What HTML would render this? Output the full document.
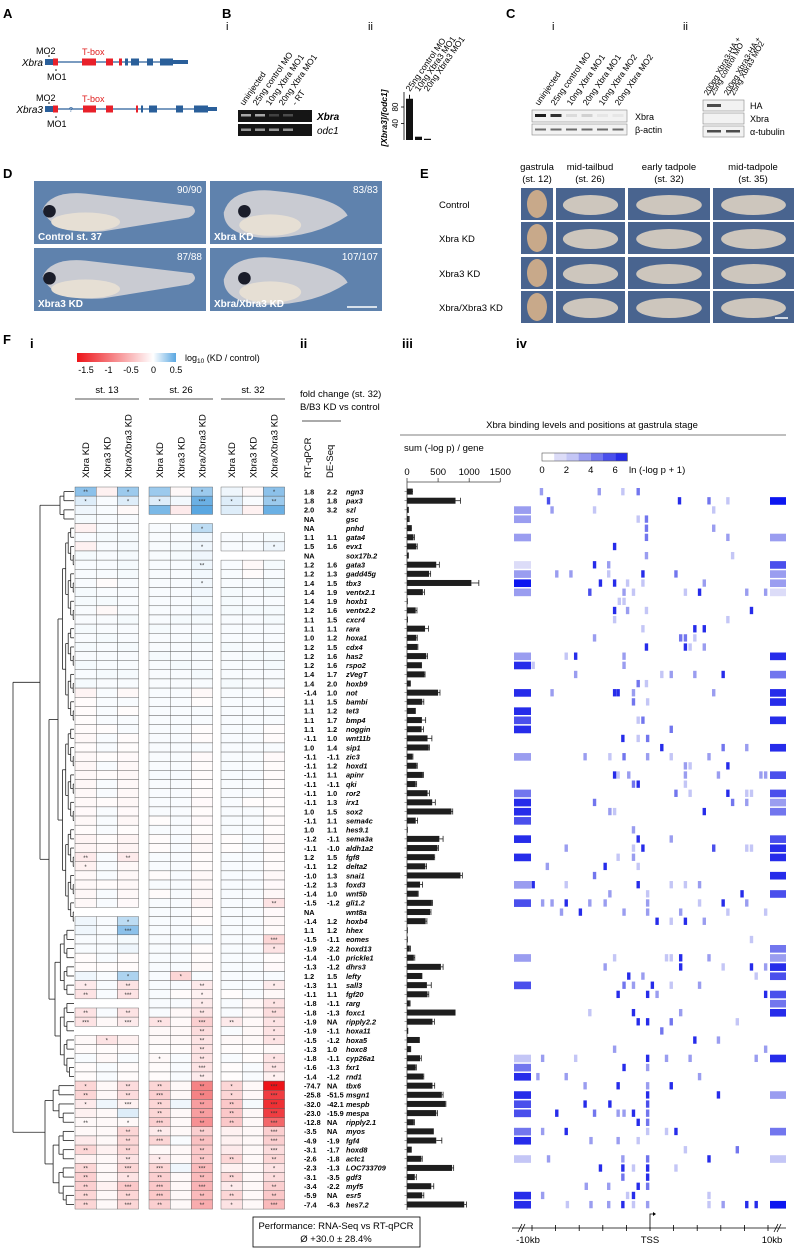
<!DOCTYPE html>
<html><head><meta charset="utf-8">
<style>
html,body{margin:0;padding:0;background:#fff;}
svg{display:block;font-family:"Liberation Sans",Arial,sans-serif;}
</style></head>
<body>
<svg id="fig" xmlns="http://www.w3.org/2000/svg" width="796" height="1248" viewBox="0 0 796 1248">
<rect x="0" y="0" width="796" height="1248" fill="#fff"/>
<g id="topPanels"></g>
<g id="heat"></g>
<g id="dendro"></g>
<g id="table"></g>
<g id="bars"></g>
<g id="bind"></g>
</svg>
<script>
const genes=["ngn3","pax3","szl","gsc","pnhd","gata4","evx1","sox17b.2","gata3","gadd45g","tbx3","ventx2.1","hoxb1","ventx2.2","cxcr4","rara","hoxa1","cdx4","has2","rspo2","zVegT","hoxb9","not","bambi","tet3","bmp4","noggin","wnt11b","sip1","zic3","hoxd1","apinr","qki","ror2","irx1","sox2","sema4c","hes9.1","sema3a","aldh1a2","fgf8","delta2","snai1","foxd3","wnt5b","gli1.2","wnt8a","hoxb4","hhex","eomes","hoxd13","prickle1","dhrs3","lefty","sall3","fgf20","rarg","foxc1","ripply2.2","hoxa11","hoxa5","hoxc8","cyp26a1","fxr1","rnd1","tbx6","msgn1","mespb","mespa","ripply2.1","myos","fgf4","hoxd8","actc1","LOC733709","gdf3","myf5","esr5","hes7.2"];
const rtqpcr=["1.8","1.8","2.0","NA","NA","1.1","1.5","NA","1.2","1.2","1.4","1.4","1.4","1.2","1.1","1.1","1.0","1.2","1.2","1.2","1.4","1.4","-1.4","1.1","1.1","1.1","1.1","-1.1","1.0","-1.1","-1.1","-1.1","-1.1","-1.1","-1.1","1.0","-1.1","1.0","-1.2","-1.1","1.2","-1.1","-1.0","-1.2","-1.4","-1.5","NA","-1.4","1.1","-1.5","-1.9","-1.4","-1.3","1.2","-1.3","-1.1","-1.8","-1.8","-1.9","-1.9","-1.5","-1.3","-1.8","-1.6","-1.4","-74.7","-25.8","-32.0","-23.0","-12.8","-3.5","-4.9","-3.1","-2.6","-2.3","-3.1","-3.4","-5.9","-7.4"];
const deseq=["2.2","1.8","3.2","","","1.1","1.6","","1.6","1.3","1.5","1.9","1.9","1.6","1.5","1.1","1.2","1.5","1.6","1.6","1.7","2.0","1.0","1.5","1.2","1.7","1.2","1.0","1.4","-1.1","1.2","1.1","-1.1","1.0","1.3","1.5","1.1","1.1","-1.1","-1.0","1.5","1.2","1.3","1.3","1.0","-1.2","","1.2","1.2","-1.1","-2.2","-1.0","-1.2","1.5","1.1","1.1","-1.1","-1.3","NA","-1.1","-1.2","1.0","-1.1","-1.3","-1.2","NA","-51.5","-42.1","-15.9","NA","NA","-1.9","-1.7","-1.8","-1.3","-3.5","-2.2","NA","-6.3"];
const bindSum=[80,780,20,30,65,105,150,20,470,355,1035,255,5,140,15,290,150,165,310,230,280,50,500,245,130,240,235,330,350,85,155,255,140,330,405,715,140,10,520,490,435,295,860,210,175,400,370,300,2,0,45,110,545,235,320,330,45,780,410,20,195,55,210,140,260,410,560,615,470,110,420,470,65,230,725,125,390,245,920];
const bindErr=[10,80,3,5,8,15,15,3,50,25,120,25,0,20,0,55,15,10,20,5,10,5,30,25,5,60,30,70,10,10,10,10,15,30,50,20,30,0,60,15,10,20,30,40,5,10,15,20,0,0,10,15,35,5,70,20,5,0,30,0,5,5,20,10,10,35,20,10,20,10,5,90,5,15,25,25,40,25,35];
const barTicks=[0,500,1000,1500];
const heatCols=["Xbra KD","Xbra3 KD","Xbra/Xbra3 KD"];
const stages=["st. 13","st. 26","st. 32"];
const heatVals=[
[0.35,-0.1,0.3,0.3,-0.05,0.3,0.05,-0.05,0.35],
[0.1,0.02,0.1,0.1,0.04,0.45,0.1,0.02,0.3],
[0.05,0.02,-0.05,0.4,-0.15,0.5,0.1,-0.1,0.45],
[0.03,0.02,0.02,null,null,null,null,null,null],
[-0.1,0.02,0.02,0.02,0.02,0.2,null,null,null],
[0.02,0.03,0.03,0.02,0.02,0.05,0.02,0.02,0.03],
[-0.1,0.02,0.03,0.02,0.03,0.05,0.02,0.02,0.05],
[0.03,0.02,0.03,0.02,0.03,0.05,null,null,null],
[0.02,0.02,0.03,0.02,0.02,0.05,0.02,-0.05,0.03],
[0.02,0.02,0.03,0.02,0.02,0.04,0.02,-0.03,0.02],
[0.02,-0.03,0.02,0.02,0.02,0.04,0.02,0.02,0.03],
[0.03,0.02,0.02,0.02,0.02,0.04,0.03,0.02,0.03],
[0.03,0.03,0.02,0.02,0.02,0.03,0.03,0.02,0.02],
[0.02,-0.05,0.02,0.02,0.02,0.04,0.03,0.03,0.03],
[0.02,0.02,0.03,0.02,0.03,0.03,0.02,0.02,0.03],
[0.03,0.02,0.02,0.03,0.02,0.02,0.02,0.02,0.02],
[0.02,0.03,0.02,0.02,0.02,0.03,0.02,0.02,0.02],
[0.03,0.02,0.03,0.02,0.02,0.02,0.03,0.02,0.02],
[0.02,0.02,0.02,0.03,0.02,0.02,0.02,0.03,0.03],
[0.03,0.02,0.02,0.02,0.03,0.02,0.02,0.02,0.03],
[0.02,0.03,0.03,0.02,0.02,0.03,0.02,0.02,0.02],
[0.03,0.02,0.02,0.02,0.02,0.02,0.03,0.02,0.02],
[-0.08,0.02,-0.05,0.02,0.02,-0.05,0.02,0.02,-0.03],
[-0.03,0.02,0.02,0.02,0.02,-0.02,0.02,0.02,0.02],
[-0.03,0.02,-0.02,0.02,0.02,0.02,0.02,0.02,0.02],
[-0.02,0.02,0.02,0.02,0.02,0.02,0.02,0.02,0.02],
[-0.03,-0.02,0.02,0.02,0.02,-0.02,0.02,0.02,-0.02],
[-0.05,0.02,-0.03,0.02,0.02,-0.03,0.02,0.02,-0.03],
[-0.03,0.02,-0.02,0.02,0.02,0.02,0.02,0.02,0.02],
[-0.05,-0.02,-0.04,0.02,0.02,-0.04,0.02,0.02,-0.04],
[-0.06,0.02,-0.05,0.02,0.02,-0.03,0.02,0.02,-0.03],
[-0.05,-0.03,-0.05,0.02,0.02,-0.03,0.02,0.02,-0.03],
[-0.06,0.02,-0.05,0.02,0.02,-0.02,0.02,0.02,-0.02],
[-0.05,0.02,-0.05,0.02,0.02,-0.03,0.02,0.02,-0.02],
[-0.05,-0.03,-0.06,0.02,0.02,-0.04,0.02,-0.02,-0.02],
[-0.04,0.02,-0.04,0.02,0.02,-0.03,0.02,0.02,-0.02],
[-0.05,0.02,-0.06,-0.02,0.02,-0.04,0.02,0.02,-0.03],
[-0.03,0.02,-0.02,0.02,0.02,-0.02,0.02,0.02,-0.02],
[-0.08,-0.03,-0.08,-0.03,0.02,-0.06,-0.02,0.02,-0.05],
[-0.08,-0.05,-0.08,-0.03,0.02,-0.06,-0.02,0.02,-0.05],
[-0.15,0.02,-0.15,0.02,0.02,-0.03,0.02,0.02,-0.03],
[-0.1,0.02,-0.05,0.02,0.02,-0.03,0.02,0.02,-0.03],
[-0.05,0.02,-0.05,-0.03,0.02,-0.05,0.02,0.02,-0.05],
[-0.05,-0.03,-0.05,0.02,0.02,-0.05,0.02,0.02,-0.04],
[-0.06,0.02,-0.05,-0.03,0.02,-0.06,0.02,0.02,-0.06],
[-0.05,0.02,-0.04,0.02,0.02,-0.08,0.02,0.02,-0.2],
[null,null,null,0.02,0.02,-0.03,0.02,0.02,-0.04],
[0.05,0.02,0.2,0.02,0.02,-0.03,0.02,0.02,-0.05],
[0.05,0.02,0.35,0.02,0.02,0.02,0.02,0.02,-0.03],
[0.02,0.02,0.03,0.02,0.02,0.02,0.02,0.02,-0.3],
[0.02,0.02,0.05,0.02,0.02,-0.03,0.02,0.02,-0.2],
[-0.03,0.02,-0.03,0.02,0.02,-0.03,0.02,0.02,-0.03],
[-0.03,-0.02,-0.03,0.02,0.02,-0.05,0.02,0.02,-0.04],
[0.05,0.02,0.25,0.02,-0.3,0.02,0.02,0.02,0.02],
[-0.15,0.02,-0.2,0.02,0.02,-0.15,0.02,0.02,-0.15],
[-0.2,0.02,-0.2,0.02,-0.03,-0.1,-0.02,0.02,-0.05],
[null,null,null,0.02,0.02,-0.15,0.02,-0.05,-0.2],
[-0.2,0.02,-0.2,0.02,-0.05,-0.2,0.02,-0.05,-0.25],
[-0.2,-0.05,-0.15,-0.2,-0.05,-0.35,-0.15,-0.05,-0.2],
[null,null,null,-0.05,-0.05,-0.25,0.02,-0.05,-0.2],
[-0.05,-0.2,-0.1,-0.05,-0.05,-0.2,-0.05,-0.05,-0.2],
[-0.03,-0.03,-0.03,-0.02,-0.02,-0.2,-0.02,-0.02,-0.05],
[0.02,-0.05,0.02,-0.05,0.02,-0.2,0.02,-0.02,-0.2],
[-0.03,0.02,-0.03,-0.03,0.02,-0.2,-0.02,0.02,-0.2],
[-0.03,0.02,-0.03,-0.03,0.02,-0.15,-0.02,0.02,-0.1],
[-0.3,-0.05,-0.25,-0.3,-0.05,-0.9,-0.3,-0.05,-1.7],
[-0.3,-0.05,-0.25,-0.35,-0.05,-0.9,-0.3,-0.05,-1.4],
[-0.15,0.05,-0.1,-0.3,0.05,-0.7,-0.4,0.03,-1.5],
[-0.1,-0.05,0.1,-0.3,-0.05,-0.7,-0.4,-0.05,-1.4],
[-0.05,-0.05,-0.05,-0.35,-0.05,-0.8,-0.4,-0.05,-1.1],
[-0.05,-0.05,-0.3,-0.15,-0.05,-0.35,-0.1,-0.05,-0.35],
[-0.15,-0.05,-0.3,-0.3,0.02,-0.45,-0.1,-0.05,-0.35],
[-0.3,-0.1,-0.3,-0.05,-0.05,-0.4,-0.15,-0.05,-0.25],
[-0.1,-0.05,-0.2,-0.15,-0.05,-0.4,-0.3,-0.05,-0.3],
[-0.3,-0.05,-0.3,-0.3,0.05,-0.5,-0.1,-0.05,-0.2],
[-0.35,-0.05,-0.2,-0.35,-0.05,-0.5,-0.3,-0.05,-0.25],
[-0.35,-0.1,-0.4,-0.4,-0.05,-0.55,-0.15,-0.05,-0.35],
[-0.3,-0.05,-0.3,-0.4,-0.05,-0.5,-0.3,-0.05,-0.4],
[-0.3,-0.05,-0.3,-0.35,-0.05,-0.6,-0.2,-0.05,-0.5]];
const heatStars={0:"**,,*,,,*,,,*",1:"*,,*,*,,***,*,,**",4:",,,,,*,,,",6:",,,,,*,,,*",8:",,,,,**,,,",10:",,,,,*,,,",40:"**,,**,,,,,,",41:"*,,,,,,,,",45:",,,,,,,,**",47:",,*,,,,,,",48:",,***,,,,,,",49:",,,,,,,,***",50:",,,,,,,,*",53:",,*,,*,,,,",54:"*,,**,,,**,,,*",55:"**,,***,,,*,,,",56:",,,,,*,,,*",57:"**,,**,,,**,,,**",58:"***,,***,**,,***,**,,*",59:",,,,,**,,,*",60:",*,,,,**,,,*",61:",,,,,**,,,",62:",,,*,,**,,,*",63:",,,,,***,,,**",64:",,,,,**,,,*",65:"*,,**,**,,**,*,,***",66:"**,,**,***,,**,*,,***",67:"*,,***,**,,**,**,,***",68:",,,**,,**,**,,***",69:"**,,*,***,,**,**,,***",70:",,**,**,,**,,,***",71:",,**,***,,**,,,***",72:"**,,**,,,**,,,***",73:",,**,*,,**,**,,**",74:"**,,***,***,,***,,,*",75:"**,,*,**,,**,**,,*",76:"**,,***,***,,***,*,,**",77:"**,,**,***,,**,**,,**",78:"**,,***,**,,**,*,,***"};
const leftBin=[0,0,3,3,0,3,0,0,1,3,7,3,0,0,0,0,0,0,3,6,0,0,6,0,6,5,6,0,0,3,0,0,0,4,6,6,5,0,6,0,6,0,0,3,0,5,0,0,0,0,0,3,0,0,5,0,0,0,0,0,0,0,2,4,6,0,6,5,5,0,4,6,0,2,0,0,0,6,6];
const rightBin=[0,7,0,0,0,3,0,0,5,3,3,1,0,0,0,0,0,0,6,0,4,0,6,6,0,6,0,0,6,0,0,5,0,5,3,4,0,0,5,6,6,0,6,0,5,0,0,0,0,0,4,3,6,5,0,5,4,6,0,0,0,0,6,0,0,0,3,0,0,0,4,0,0,2,0,0,0,0,7];
const bindingMarks=[[0,-9.2,3],[0,-4.3,3],[0,-2.3,2],[0,-1.0,4],[1,-8.6,5],[1,2.5,6],[1,5.0,4],[1,6.6,2],[2,-8.3,3],[2,-4.7,2],[2,5.4,2],[3,-1.0,2],[3,-0.3,4],[4,-0.3,4],[4,5.4,3],[5,-0.3,4],[5,6.6,3],[6,-3.0,6],[7,-0.3,3],[7,7.0,2],[8,-4.7,6],[8,-3.5,3],[9,-7.9,3],[9,-6.7,3],[9,-3.5,2],[9,-0.6,6],[9,2.2,4],[10,-4.2,6],[10,-3.0,6],[10,-1.9,2],[10,-0.6,2],[10,4.6,3],[11,-5.1,5],[11,-2.2,3],[11,-1.4,2],[11,3.0,2],[11,4.2,6],[11,8.2,3],[11,9.8,3],[12,-2.6,2],[12,-2.2,2],[13,-3.0,6],[13,-1.9,3],[13,-0.3,2],[13,8.6,6],[14,-3.0,2],[14,6.6,2],[15,-0.6,2],[15,3.8,6],[15,4.6,6],[16,-4.7,3],[16,2.6,4],[16,3.0,4],[16,3.8,2],[17,-0.3,6],[17,3.0,6],[17,3.4,2],[17,4.6,3],[18,-7.1,2],[18,-6.3,6],[18,-2.2,3],[19,-9.9,2],[19,-2.2,3],[20,-6.3,3],[20,1.0,2],[20,1.8,3],[20,3.8,3],[20,6.2,6],[21,-1.0,4],[21,-0.3,2],[22,-8.3,3],[22,-3.0,6],[22,-2.7,6],[22,-1.4,3],[22,5.4,3],[23,-1.4,4],[23,-0.2,2],[25,-1.0,2],[25,-0.6,4],[26,1.8,4],[27,-2.3,6],[27,-1.0,2],[27,-0.2,4],[28,1.0,6],[28,6.2,4],[28,8.2,3],[29,-5.5,3],[29,-3.4,2],[29,-2.2,4],[29,-0.2,3],[29,1.8,2],[29,5.0,3],[30,3.0,3],[30,3.4,2],[30,6.6,6],[31,-3.0,6],[31,-2.7,2],[31,-1.8,3],[31,3.0,3],[31,5.8,3],[31,9.4,3],[31,9.8,3],[32,-1.4,4],[32,-1.0,6],[32,3.0,2],[33,2.2,4],[33,3.4,2],[33,6.6,6],[33,8.2,2],[33,8.6,2],[34,-4.7,4],[34,7.0,4],[34,8.2,3],[35,-3.4,3],[35,-3.0,2],[35,4.6,6],[37,-1.4,3],[38,-1.0,6],[38,1.8,3],[39,-7.1,3],[39,-1.4,2],[39,-0.6,6],[39,5.4,5],[39,8.2,2],[39,8.6,2],[40,-2.7,2],[40,-1.4,3],[41,-8.7,3],[41,-3.8,6],[41,-1.0,2],[42,-4.7,4],[43,-9.9,6],[43,-7.1,2],[43,-1.0,6],[43,1.8,2],[43,3.0,2],[43,4.2,3],[44,-3.4,3],[44,-0.2,2],[44,7.8,6],[45,-9.1,3],[45,-8.3,3],[45,-7.1,6],[45,-5.1,3],[45,-3.8,3],[45,-0.2,3],[45,4.2,2],[45,6.2,6],[45,8.2,3],[46,-7.5,3],[46,-5.9,6],[46,-2.2,3],[46,-0.2,3],[46,2.6,3],[46,6.6,2],[46,9.8,2],[47,0.6,6],[47,1.8,2],[47,3.0,6],[47,4.6,3],[49,8.6,2],[51,-3.0,2],[51,1.4,2],[51,1.8,2],[51,2.6,6],[51,5.0,3],[52,-3.8,3],[52,2.6,6],[52,6.2,2],[52,8.6,6],[52,9.8,3],[53,-1.8,6],[53,-0.6,3],[53,9.0,2],[54,-2.2,4],[54,-1.4,3],[54,0.2,6],[54,1.8,2],[54,4.2,3],[55,-2.7,6],[55,-0.2,6],[55,0.6,3],[55,9.8,6],[57,-5.1,2],[57,-1.4,6],[57,2.6,3],[58,-1.0,6],[58,-0.2,6],[58,1.8,4],[58,7.4,2],[59,1.0,4],[60,3.8,6],[60,5.8,3],[61,-3.0,3],[61,9.8,3],[62,-9.1,3],[62,-6.3,2],[62,-0.2,6],[62,1.4,3],[62,3.4,3],[62,9.0,3],[63,-2.2,6],[63,-0.2,3],[64,-9.5,3],[64,-7.1,3],[64,4.2,3],[65,-5.5,3],[65,-2.7,6],[65,-0.2,3],[65,1.8,6],[66,-0.2,6],[66,5.8,6],[67,-5.5,6],[67,-3.4,6],[67,-0.2,5],[68,-7.9,6],[68,-4.7,4],[68,-2.7,3],[68,-2.2,3],[68,-1.4,6],[68,-0.2,4],[69,-1.0,6],[69,-0.2,4],[70,-9.1,3],[70,-7.1,6],[70,-0.2,2],[70,1.4,2],[70,2.2,6],[71,-5.0,3],[71,-2.7,3],[71,-1.0,2],[72,3.0,2],[72,7.4,4],[73,-8.6,3],[73,-2.3,3],[73,-0.2,4],[73,5.0,6],[74,-4.2,6],[74,-2.3,6],[74,-1.4,2],[74,-0.2,6],[74,2.2,2],[75,-2.3,4],[75,-0.2,6],[76,-5.4,3],[76,-3.5,3],[76,-1.0,6],[76,-0.2,4],[77,-9.1,3],[77,-1.9,2],[77,-1.4,6],[77,5.0,2],[78,-7.0,2],[78,-5.0,3],[78,-3.5,3],[78,-2.3,6],[78,-1.4,2],[78,-0.2,3],[78,5.0,2],[78,6.2,3],[78,8.2,6],[78,9.0,6]];
const gelLanes=["uninjected","25ng control MO","10ng Xbra MO1","20ng Xbra MO1","- RT"];
const qpcrLanes=["25ng control MO","10ng Xbra3 MO1","20ng Xbra3 MO1"];
const qpcrVals=[100,8,3];
const qpcrTicks=[40,80];

const NS="http://www.w3.org/2000/svg";
function el(parent,tag,attrs,text){const e=document.createElementNS(NS,tag);for(const k in attrs)e.setAttribute(k,attrs[k]);if(text!==undefined)e.textContent=text;parent.appendChild(e);return e;}

const ROW0=487, RH=9.14;
const rowY=i=>ROW0+i*RH;
const rowC=i=>ROW0+i*RH+RH/2;

/* ---------------- TOP PANELS ---------------- */
const topG=document.getElementById('topPanels');
function label(x,y,t,size,nm,extra){const e=el(topG,'text',Object.assign({x:x,y:y,'font-size':size||13,'font-weight':'bold'},extra||{}),t);return e;}
label(3,18,'A',13,'panel-a-label');label(222,18,'B',13,'panel-b-label');label(506,18,'C',13,'panel-c-label');
label(3,178,'D',13,'panel-d-label');label(420,178,'E',13,'panel-e-label');label(3,344,'F',13,'panel-f-label');
function gene(y,nm,exons,qx,tailEnd){
  const g=el(topG,'g',{});
  el(g,'line',{x1:45,y1:y,x2:tailEnd,y2:y,stroke:'#2a5f9a','stroke-width':1.2});
  exons.forEach(e=>el(g,'rect',{x:e[0],y:y-e[2]/2,width:e[1]-e[0],height:e[2],fill:e[3]}));
  el(g,'text',{x:43,y:y+4,'font-size':10,'font-style':'italic','text-anchor':'end'},nm);
  el(g,'text',{x:36,y:y-8,'font-size':9},'MO2');
  el(g,'text',{x:47,y:y+18,'font-size':9},'MO1');
  el(g,'text',{x:82,y:y-7,'font-size':9,fill:'#e02020'},'T-box');
  el(g,'circle',{cx:49,cy:y-6,r:0.8,fill:'#000'});el(g,'circle',{cx:56,cy:y+8,r:0.8,fill:'#000'});
  if(qx) el(g,'text',{x:qx,y:y+3,'font-size':7,fill:'#2a5f9a'},'?');
}
const B='#2a5f9a',R='#e8202a';
gene(62,'Xbra',[[45,53,6,B],[53,58,7,R],[82,96,7,R],[106,113,7,R],[119,122,7,R],[125,128,7,B],[131,139,7,B],[147,153,7,B],[160,173,7,B],[173,188,4,B]],null,188);
gene(109,'Xbra3',[[45,53,6,B],[53,58,7,R],[83,96,7,R],[106,113,7,R],[136,138,7,R],[141,143,7,B],[149,157,7,B],[176,183,7,B],[194,208,7,B],[208,217,4,B]],69,217);
label(226,30,'i',11,'panel-bi-label',{'font-weight':'normal'});
gelLanes.forEach((t,i)=>{const e=el(topG,'text',{x:0,y:0,'font-size':8.5,transform:`translate(${244+i*13},106) rotate(-55)`},t);});
const gel=el(topG,'g',{});
el(gel,'rect',{x:238,y:110,width:74,height:12,fill:'#151515'});el(gel,'rect',{x:238,y:124,width:74,height:12,fill:'#151515'});
[0.8,0.8,0.25,0.3].forEach((a,i)=>el(gel,'rect',{x:241+i*14,y:114,width:10,height:2.5,fill:'#ccc',opacity:a}));
[0.7,0.7,0.7,0.7].forEach((a,i)=>el(gel,'rect',{x:241+i*14,y:128.5,width:10,height:2.5,fill:'#ccc',opacity:a}));
el(topG,'text',{x:317,y:120,'font-size':10,'font-weight':'bold','font-style':'italic'},'Xbra');
el(topG,'text',{x:317,y:134,'font-size':10,'font-style':'italic'},'odc1');
label(368,30,'ii',11,'panel-bii-label',{'font-weight':'normal'});
qpcrLanes.forEach((t,i)=>{const e=el(topG,'text',{x:0,y:0,'font-size':8.5,transform:`translate(${410+i*9},92) rotate(-55)`},t);});
const qy=v=>140-v*0.4125;
const qg=el(topG,'g',{});
el(qg,'line',{x1:404,y1:92,x2:404,y2:140,stroke:'#000','stroke-width':0.8});
qpcrTicks.forEach(t=>{el(qg,'line',{x1:401,y1:qy(t),x2:404,y2:qy(t),stroke:'#000','stroke-width':0.8});el(qg,'text',{x:0,y:0,'font-size':8,'text-anchor':'middle',transform:`translate(398,${qy(t)}) rotate(-90)`},String(t));});
qpcrVals.forEach((v,i)=>{const r=el(qg,'rect',{x:406+i*9,y:qy(v),width:7,height:140-qy(v),fill:'#111'});});
el(qg,'line',{x1:409.5,y1:qy(100)-4,x2:409.5,y2:qy(100),stroke:'#111'});
el(qg,'text',{x:0,y:0,'font-size':8.5,'font-weight':'bold','font-style':'italic','text-anchor':'middle',transform:'translate(387,118) rotate(-90)'},'[Xbra3]/[odc1]');
label(552,30,'i',11,'panel-ci-label',{'font-weight':'normal'});
["uninjected","25ng control MO","10ng Xbra MO1","20ng Xbra MO1","10ng Xbra MO2","20ng Xbra MO2"].forEach((t,i)=>{const e=el(topG,'text',{x:0,y:0,'font-size':8.5,transform:`translate(${539+i*16},106) rotate(-55)`},t);});
const wb=el(topG,'g',{});
el(wb,'rect',{x:532,y:110,width:95,height:12,fill:'#f2f2f2',stroke:'#888','stroke-width':0.6});
el(wb,'rect',{x:532,y:124,width:95,height:11,fill:'#f2f2f2',stroke:'#888','stroke-width':0.6});
[0.95,0.85,0.1,0.15,0.05,0.05].forEach((a,i)=>el(wb,'rect',{x:535+i*15.5,y:114,width:11,height:3,fill:'#111',opacity:a}));
[0.7,0.7,0.7,0.7,0.7,0.7].forEach((a,i)=>el(wb,'rect',{x:535+i*15.5,y:128.5,width:11,height:2,fill:'#333',opacity:a}));
el(topG,'text',{x:635,y:120,'font-size':9},'Xbra');el(topG,'text',{x:635,y:133,'font-size':9},'β-actin');
label(683,30,'ii',11,'panel-cii-label',{'font-weight':'normal'});
["200pg Xbra3-HA +","25ng control MO"].forEach((t,i)=>el(topG,'text',{x:0,y:0,'font-size':8,transform:`translate(${708+i*6},96) rotate(-60)`},t));
["200pg Xbra3-HA +","25ng Xbra3 MO2"].forEach((t,i)=>el(topG,'text',{x:0,y:0,'font-size':8,transform:`translate(${728+i*6},96) rotate(-60)`},t));
const wb2=el(topG,'g',{});
[[100,11],[113,11],[126,11]].forEach(r=>el(wb2,'rect',{x:703,y:r[0],width:41,height:r[1],fill:'#f2f2f2',stroke:'#888','stroke-width':0.6}));
el(wb2,'rect',{x:707,y:104,width:14,height:3,fill:'#222',opacity:0.8});
el(wb2,'rect',{x:707,y:130,width:14,height:2.5,fill:'#222',opacity:0.8});el(wb2,'rect',{x:726,y:130,width:14,height:2.5,fill:'#222',opacity:0.8});
el(topG,'text',{x:750,y:109,'font-size':9},'HA');el(topG,'text',{x:750,y:122,'font-size':9},'Xbra');el(topG,'text',{x:750,y:135,'font-size':9},'α-tubulin');
function embryo(g,x,y,w,h,kind){
  if(kind==='tadpole'){
    el(g,'path',{d:`M${x+w*0.05},${y+h*0.45} Q${x+w*0.1},${y+h*0.15} ${x+w*0.3},${y+h*0.2} L${x+w*0.92},${y+h*0.4} Q${x+w*0.96},${y+h*0.5} ${x+w*0.9},${y+h*0.58} L${x+w*0.4},${y+h*0.8} Q${x+w*0.1},${y+h*0.85} ${x+w*0.05},${y+h*0.45}Z`,fill:'#c9cbd2'});
    el(g,'ellipse',{cx:x+w*0.3,cy:y+h*0.65,rx:w*0.2,ry:h*0.15,fill:'#e6dfd4'});
  } else {
    el(g,'path',{d:`M${x+w*0.08},${y+h*0.5} Q${x+w*0.12},${y+h*0.12} ${x+w*0.35},${y+h*0.15} Q${x+w*0.75},${y+h*0.25} ${x+w*0.8},${y+h*0.55} Q${x+w*0.6},${y+h*0.92} ${x+w*0.3},${y+h*0.9} Q${x+w*0.08},${y+h*0.85} ${x+w*0.08},${y+h*0.5}Z`,fill:'#c9cbd2'});
    el(g,'ellipse',{cx:x+w*0.35,cy:y+h*0.7,rx:w*0.18,ry:h*0.17,fill:'#e6dfd4'});
  }
  el(g,'circle',{cx:x+w*(kind==='tadpole'?0.09:0.2),cy:y+h*0.48,r:h*0.1,fill:'#1a1d2a'});
}
const dPanels=[[34,181,'Control st. 37','90/90','tadpole'],[210,181,'Xbra KD','83/83','short'],[34,248,'Xbra3 KD','87/88','tadpole'],[210,248,'Xbra/Xbra3 KD','107/107','short']];
dPanels.forEach(p=>{const g=el(topG,'g',{});
  el(g,'rect',{x:p[0],y:p[1],width:172,height:63,fill:'#5f82ad'});embryo(g,p[0],p[1],172,63,p[4]);
  el(g,'text',{x:p[0]+4,y:p[1]+59,'font-size':10,'font-weight':'bold',fill:'#fff'},p[2]);
  el(g,'text',{x:p[0]+168,y:p[1]+12,'font-size':10,fill:'#fff','text-anchor':'end'},p[3]);});
el(topG,'line',{x1:347,y1:307,x2:377,y2:307,stroke:'#fff','stroke-width':1.5});
[['gastrula','(st. 12)',537],['mid-tailbud','(st. 26)',590],['early tadpole','(st. 32)',669],['mid-tadpole','(st. 35)',753]].forEach(c=>{el(topG,'text',{x:c[2],y:170,'font-size':9.5,'text-anchor':'middle'},c[0]);el(topG,'text',{x:c[2],y:182,'font-size':9.5,'text-anchor':'middle'},c[1]);});
const eRows=[[188,'Control'],[222,'Xbra KD'],[257,'Xbra3 KD'],[291,'Xbra/Xbra3 KD']];
const eCols=[[521,32],[556,69],[628,82],[713,81]];
eRows.forEach(r=>{el(topG,'text',{x:439,y:r[0]+20,'font-size':9.5},r[1]);
  eCols.forEach((c,ci)=>{const g=el(topG,'g',{});
    el(g,'rect',{x:c[0],y:r[0],width:c[1],height:32,fill:'#49648f'});
    if(ci===0) el(g,'ellipse',{cx:c[0]+16,cy:r[0]+16,rx:10,ry:14,fill:'#c8a98a'});
    else el(g,'ellipse',{cx:c[0]+c[1]/2,cy:r[0]+17,rx:c[1]*0.4,ry:10,fill:'#cdc6bd'});});});
el(topG,'line',{x1:775,y1:318,x2:788,y2:318,stroke:'#fff','stroke-width':1.5});

/* ---------------- HEATMAP ---------------- */
const heat=document.getElementById('heat');
el(heat,'text',{x:30,y:348,'font-size':13,'font-weight':'bold'},'i');
const grpX=[75,149,221], CW=21.2;
const colX=c=>grpX[Math.floor(c/3)]+(c%3)*CW;
function heatColor(v){ if(v<0){const t=Math.min(1,-v/1.7);return `rgb(${Math.round(255-t*18)},${Math.round(255-t*235)},${Math.round(255-t*230)})`;} const t=Math.min(1,v/0.5);return `rgb(${Math.round(255-t*165)},${Math.round(255-t*88)},${Math.round(255-t*30)})`;}
const cb=el(heat,'defs',{});const lg=el(cb,'linearGradient',{id:'hg',x1:0,x2:1,y1:0,y2:0});
el(lg,'stop',{offset:'0%','stop-color':'rgb(237,20,25)'});el(lg,'stop',{offset:'77%','stop-color':'#fff'});el(lg,'stop',{offset:'100%','stop-color':'rgb(90,167,225)'});
const cbar=el(heat,'rect',{x:77,y:353,width:99,height:9,fill:'url(#hg)'});
const cbx=v=>77+(v+1.7)/2.2*99;
[-1.5,-1,-0.5,0,0.5].forEach(v=>el(heat,'text',{x:cbx(v),y:373,'font-size':9,'text-anchor':'middle'},String(v)));
const cbt=el(heat,'text',{x:185,y:361,'font-size':9});
el(cbt,'tspan',{},'log');el(cbt,'tspan',{'font-size':6.5,dy:2},'10');el(cbt,'tspan',{dy:-2},' (KD / control)');
stages.forEach((s,g)=>{el(heat,'text',{x:grpX[g]+32,y:393,'font-size':9.5,'text-anchor':'middle'},s);el(heat,'line',{x1:grpX[g],y1:399,x2:grpX[g]+64,y2:399,stroke:'#777','stroke-width':1.3});});
for(let c=0;c<9;c++){const t=el(heat,'text',{x:0,y:0,'font-size':9.5,transform:`translate(${colX(c)+CW/2+3.5},478) rotate(-90)`},heatCols[c%3]);}
heatVals.forEach((row,i)=>{row.forEach((v,c)=>{ if(v===null) return;
  const r=el(heat,'rect',{x:colX(c),y:rowY(i),width:CW,height:RH,fill:heatColor(v),stroke:'#555','stroke-width':0.4});
  
  const s=heatStars[i]?heatStars[i].split(',')[c]:'';
  if(s){el(heat,'text',{x:colX(c)+CW/2,y:rowY(i)+7.2,'font-size':6,'text-anchor':'middle',fill:'#333'},s);}
});});

/* ---------------- DENDROGRAM ---------------- */
const den=document.getElementById('dendro');
const splitCfg={"0-78":65,"0-64":4,"4-64":48,"4-47":26,"48-64":56,"65-78":70};
const xCfg={"0-64":40,"65-78":45,"0-3":60,"4-64":49,"4-47":58,"48-64":55};
const LEAF=74;
function dline(x1,y1,x2,y2){el(den,'line',{x1:x1,y1:y1,x2:x2,y2:y2,stroke:'#222','stroke-width':0.8});}
function tree(lo,hi,x){
  if(lo===hi) return rowC(lo);
  const key=lo+'-'+hi; const s=splitCfg[key]!==undefined?splitCfg[key]:Math.floor((lo+hi+1)/2);
  const kids=[[lo,s-1],[s,hi]];
  const ys=kids.map(k=>{const kk=k[0]+'-'+k[1]; const cx=k[0]===k[1]?LEAF:(xCfg[kk]!==undefined?xCfg[kk]:x+Math.max(2.5,(LEAF-x)*0.28));
    const y=tree(k[0],k[1],cx); dline(x,y,cx,y); return y;});
  dline(x,ys[0],x,ys[1]); return (ys[0]+ys[1])/2;
}
tree(0,78,13);

/* ---------------- TABLE ---------------- */
const tb=document.getElementById('table');
el(tb,'text',{x:300,y:348,'font-size':13,'font-weight':'bold'},'ii');
el(tb,'text',{x:300,y:397,'font-size':9.5},'fold change (st. 32)');
el(tb,'text',{x:300,y:410,'font-size':9.5},'B/B3 KD vs control');
el(tb,'line',{x1:302,y1:421,x2:341,y2:421,stroke:'#777','stroke-width':1.3});
el(tb,'text',{x:0,y:0,'font-size':9.5,transform:'translate(311,478) rotate(-90)'},'RT-qPCR');
el(tb,'text',{x:0,y:0,'font-size':9.5,transform:'translate(333,478) rotate(-90)'},'DE-Seq');
genes.forEach((g,i)=>{const y=rowC(i)+2.8;
  el(tb,'text',{x:304,y:y,'font-size':7.3,'font-weight':'bold'},rtqpcr[i]);
  el(tb,'text',{x:327,y:y,'font-size':7.3,'font-weight':'bold'},deseq[i]);
  const t=el(tb,'text',{x:346,y:y,'font-size':7.3,'font-weight':'bold','font-style':'italic'},g);});
const perf=el(tb,'g',{});
el(perf,'rect',{x:253,y:1217,width:167,height:30,fill:'#fff',stroke:'#000','stroke-width':0.8});
el(perf,'text',{x:336,y:1229,'font-size':9.5,'text-anchor':'middle'},'Performance: RNA-Seq vs RT-qPCR');
el(perf,'text',{x:336,y:1242,'font-size':9.5,'text-anchor':'middle'},'Ø +30.0 ± 28.4%');

/* ---------------- BARS ---------------- */
const bars=document.getElementById('bars');
el(bars,'text',{x:402,y:348,'font-size':13,'font-weight':'bold'},'iii');
const bx=v=>407+v*0.0622;
el(bars,'text',{x:404,y:451,'font-size':9.5},'sum (-log p) / gene');
el(bars,'line',{x1:407,y1:482,x2:bx(1500),y2:482,stroke:'#444','stroke-width':0.8});
el(bars,'line',{x1:407,y1:482,x2:407,y2:1210,stroke:'#444','stroke-width':0.8});
barTicks.forEach(t=>{el(bars,'line',{x1:bx(t),y1:478,x2:bx(t),y2:482,stroke:'#444','stroke-width':0.8});el(bars,'text',{x:bx(t),y:475,'font-size':9.5,'text-anchor':'middle'},String(t));});
bindSum.forEach((v,i)=>{const c=rowC(i);
  el(bars,'line',{x1:404.5,y1:c,x2:407,y2:c,stroke:'#444','stroke-width':0.5});
  const r=el(bars,'rect',{x:407,y:c-3,width:Math.max(0.8,bx(v)-407),height:6,fill:'#1e1e1e'});
  const e=bindErr[i]; if(e>0){el(bars,'line',{x1:bx(v),y1:c,x2:bx(v+e),y2:c,stroke:'#1e1e1e','stroke-width':0.8});el(bars,'line',{x1:bx(v+e),y1:c-3,x2:bx(v+e),y2:c+3,stroke:'#1e1e1e','stroke-width':0.8});}
});

/* ---------------- BINDING MAP ---------------- */
const bind=document.getElementById('bind');
el(bind,'text',{x:516,y:348,'font-size':13,'font-weight':'bold'},'iv');
el(bind,'text',{x:592,y:428,'font-size':9.5,'text-anchor':'middle'},'Xbra binding levels and positions at gastrula stage');
el(bind,'line',{x1:400,y1:435,x2:786,y2:435,stroke:'#000','stroke-width':0.6});
const lvlCol=['#ffffff','#dcdcf8','#c4c6f6','#9a9df0','#7276ee','#4a4fec','#262cea','#0c16f0'];
for(let k=0;k<7;k++) el(bind,'rect',{x:542+k*12.2,y:453,width:12.2,height:8,fill:lvlCol[k]});
el(bind,'rect',{x:542,y:453,width:85.4,height:8,fill:'none',stroke:'#555','stroke-width':0.6});
[0,2,4,6].forEach(v=>el(bind,'text',{x:542+v*12.2,y:473,'font-size':9.5,'text-anchor':'middle'},String(v)));
el(bind,'text',{x:629,y:473,'font-size':9.5},'ln (-log p + 1)');
const kx=kb=>650+kb*11.8;
leftBin.forEach((l,i)=>{if(l>0){const r=el(bind,'rect',{x:514,y:rowY(i)+1,width:17,height:RH-1.5,fill:lvlCol[l]});}});
rightBin.forEach((l,i)=>{if(l>0){const r=el(bind,'rect',{x:770,y:rowY(i)+1,width:16,height:RH-1.5,fill:lvlCol[l]});}});
bindingMarks.forEach(m=>{const r=el(bind,'rect',{x:kx(m[1])-1.7,y:rowY(m[0])+1,width:3.4,height:RH-1.8,fill:lvlCol[m[2]]});});
el(bind,'line',{x1:512,y1:1228,x2:786,y2:1228,stroke:'#000','stroke-width':0.8});
for(let k=-10;k<=10;k+=2) el(bind,'line',{x1:kx(k),y1:1225,x2:kx(k),y2:1231,stroke:'#000','stroke-width':0.8});
[521,777].forEach(p=>{el(bind,'line',{x1:p-3,y1:1232,x2:p+1,y2:1224,stroke:'#000','stroke-width':0.8});el(bind,'line',{x1:p,y1:1232,x2:p+4,y2:1224,stroke:'#000','stroke-width':0.8});});
el(bind,'path',{d:'M650,1225 L650,1214 L654,1214',fill:'none',stroke:'#000','stroke-width':0.8});
el(bind,'path',{d:'M653,1212 L656,1214 L653,1216Z',fill:'#000'});
el(bind,'text',{x:kx(-10)-4,y:1243,'font-size':9.5,'text-anchor':'middle'},'-10kb');
el(bind,'text',{x:650,y:1243,'font-size':9.5,'text-anchor':'middle'},'TSS');
el(bind,'text',{x:kx(10)+4,y:1243,'font-size':9.5,'text-anchor':'middle'},'10kb');
</script>
</body></html>
